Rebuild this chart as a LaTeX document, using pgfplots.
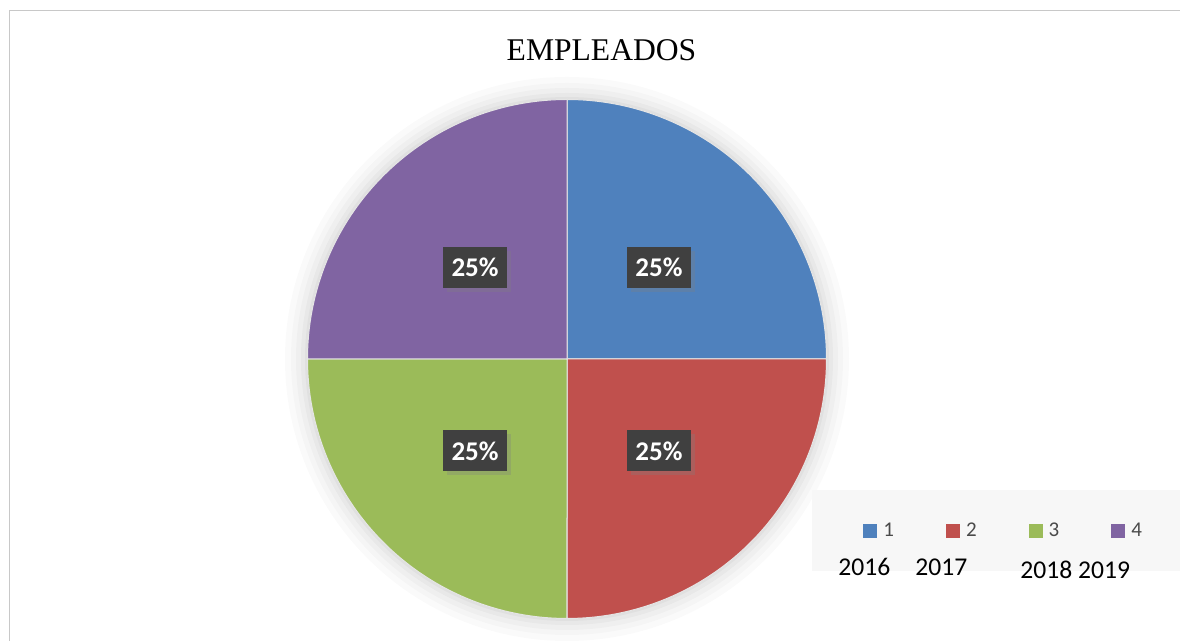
\documentclass[border=0pt]{standalone}
\usepackage{pgfplots}
\usepackage{pgfplotstable}
\pgfplotsset{compat=1.18}
\usetikzlibrary{shadows}
\usepackage{fontspec}
\setmainfont{Carlito}
\newfontfamily\titlefont{Liberation Serif}

\definecolor{cA}{HTML}{4F81BD}
\definecolor{cB}{HTML}{C0504D}
\definecolor{cC}{HTML}{9BBB59}
\definecolor{cD}{HTML}{8064A2}
\definecolor{labfill}{HTML}{404040}
\definecolor{framegray}{HTML}{C8C8C8}
\definecolor{legbg}{HTML}{F7F7F7}
\definecolor{legtext}{HTML}{4A4A4A}

\pgfplotstableread{
year value
2016 25
2017 25
2018 25
2019 25
}\empdata

% one wedge: colour, start angle, end angle (clockwise from start)
\newcommand\pieslice[3]{%
  \addplot[fill=#1, draw=white!80!gray, line width=0.5pt, domain=#3:#2, samples=90, variable=\t]
    ({567+259.5*cos(\t)},{282+259.5*sin(\t)}) -- (axis cs:567,282) -- cycle;}
\newcommand\pielabel[2]{%
  \node[fill=labfill, text=white, font=\bfseries\fontsize{13.5}{13.5}\selectfont,
        minimum width=32pt, minimum height=20.5pt, inner sep=0pt,
        drop shadow={opacity=0.3, shadow xshift=2pt, shadow yshift=-2pt}]
    at (axis cs:{567+130*cos(#1)},{282+130*sin(#1)}) {#2\%};}

\begin{document}%
\pgfplotstablegetelem{0}{value}\of\empdata\let\va\pgfplotsretval%
\pgfplotstablegetelem{1}{value}\of\empdata\let\vb\pgfplotsretval%
\pgfplotstablegetelem{2}{value}\of\empdata\let\vc\pgfplotsretval%
\pgfplotstablegetelem{3}{value}\of\empdata\let\vd\pgfplotsretval%
\pgfmathsetmacro\tot{\va+\vb+\vc+\vd}%
\pgfmathsetmacro\aA{90}%
\pgfmathsetmacro\aB{\aA-360*\va/\tot}%
\pgfmathsetmacro\aC{\aB-360*\vb/\tot}%
\pgfmathsetmacro\aD{\aC-360*\vc/\tot}%
\pgfmathsetmacro\aE{\aD-360*\vd/\tot}%
\pgfmathtruncatemacro\pa{round(100*\va/\tot)}%
\pgfmathtruncatemacro\pb{round(100*\vb/\tot)}%
\pgfmathtruncatemacro\pc{round(100*\vc/\tot)}%
\pgfmathtruncatemacro\pd{round(100*\vd/\tot)}%
\begin{tikzpicture}
\begin{axis}[
    scale only axis,
    width=590pt, height=320.5pt,
    xmin=0, xmax=1180, ymin=0, ymax=641,
    hide axis, clip=false,
    legend columns=4,
    legend image code/.code={\fill[#1, draw=none] (0pt,-3.5pt) rectangle (7pt,3.5pt);},
    legend style={at={(axis cs:863,110)}, anchor=west, draw=none, fill=none,
        inner sep=0pt, nodes={inner sep=0pt},
        font=\fontsize{10.5}{11}\selectfont, text=legtext,
        /tikz/every odd column/.append style={column sep=3pt},
        /tikz/every even column/.append style={column sep=26pt}},
]
% frame
\draw[framegray, line width=0.75pt] (axis cs:9.5,0) -- (axis cs:9.5,630.5) -- (axis cs:1180,630.5);
% soft shadow round the pie
\fill[black, opacity=0.02] (axis cs:567,282) circle[radius=282];
\fill[black, opacity=0.02] (axis cs:567,282) circle[radius=276];
\fill[black, opacity=0.025] (axis cs:567,282) circle[radius=271];
\fill[black, opacity=0.03] (axis cs:567,282) circle[radius=266];
\fill[black, opacity=0.035] (axis cs:567,282) circle[radius=262];

\pieslice{cA}{\aA}{\aB}
\pieslice{cB}{\aB}{\aC}
\pieslice{cC}{\aC}{\aD}
\pieslice{cD}{\aD}{\aE}
\legend{1,2,3,4}

\pgfmathsetmacro\mA{(\aA+\aB)/2}
\pgfmathsetmacro\mB{(\aB+\aC)/2}
\pgfmathsetmacro\mC{(\aC+\aD)/2}
\pgfmathsetmacro\mD{(\aD+\aE)/2}
\pielabel{\mA}{\pa}
\pielabel{\mB}{\pb}
\pielabel{\mC}{\pc}
\pielabel{\mD}{\pd}

\node[font=\titlefont\fontsize{15.8}{16}\selectfont] at (axis cs:601.5,591) {EMPLEADOS};

\fill[legbg] (axis cs:812,70) rectangle (axis cs:1180,151);
\node[anchor=base west, inner sep=0pt, font=\fontsize{12.8}{13}\selectfont] at (axis cs:838,65) {2016};
\node[anchor=base west, inner sep=0pt, font=\fontsize{12.8}{13}\selectfont] at (axis cs:915,65) {2017};
\node[anchor=base west, inner sep=0pt, font=\fontsize{12.8}{13}\selectfont] at (axis cs:1020,62) {2018 2019};

\coordinate (BL) at (axis cs:0,0);
\coordinate (TR) at (axis cs:1180,641);
\end{axis}
\pgfresetboundingbox
\path (BL) rectangle (TR);
\end{tikzpicture}%
\end{document}
